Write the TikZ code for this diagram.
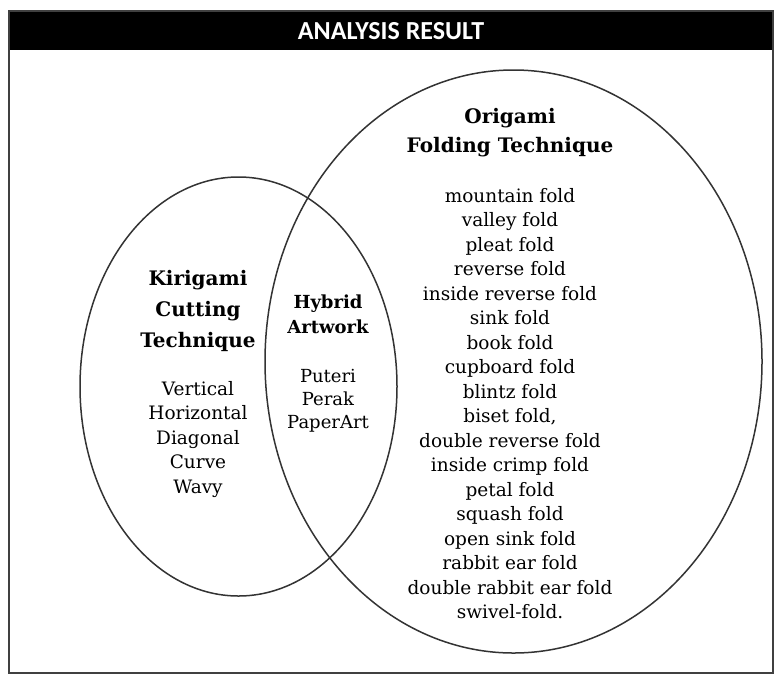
\documentclass[tikz,border=0pt]{standalone}
\usepackage{fontspec}
\setmainfont{DejaVu Serif}
\newfontfamily\headfont{Carlito}
\usetikzlibrary{shapes.geometric}
\begin{document}
\begin{tikzpicture}[x=1pt,y=-1pt,
  venn/.style={ellipse, draw=black!80, line width=1.5pt, inner sep=0pt, outer sep=0pt},
  item/.style={anchor=base, inner sep=0pt, font=\fontsize{18.5}{22}\selectfont},
  hitem/.style={anchor=base, inner sep=0pt, font=\fontsize{18}{22}\selectfont},
  ttl/.style={anchor=base, inner sep=0pt, font=\fontsize{20}{24}\selectfont\bfseries},
  httl/.style={anchor=base, inner sep=0pt, font=\fontsize{18}{22}\selectfont\bfseries},
]
\useasboundingbox (0,0) rectangle (775,675);
\fill[white] (0,0) rectangle (775,675);
% frame and header
\fill[black] (9,12) rectangle (773,50);
\draw[black!75, line width=2pt] (9,11) rectangle (773,673);
\node[font=\headfont\fontsize{26}{30}\selectfont\bfseries, text=white, inner sep=0pt] (head) at (391,31) {ANALYSIS RESULT};
% ellipses
\node[venn, minimum width=317pt, minimum height=419pt] (kiri) at (238.5,386.5) {};
\node[venn, minimum width=497pt, minimum height=583pt] (ori) at (513.5,361.5) {};
% origami
\node[ttl] (ot1) at (510,123) {Origami};
\node[ttl] (ot2) at (510,152) {Folding Technique};
\foreach \t [count=\i] in {mountain fold, valley fold, pleat fold, reverse fold, inside reverse fold, sink fold, book fold, cupboard fold, blintz fold, {biset fold,}, double reverse fold, inside crimp fold, petal fold, squash fold, open sink fold, rabbit ear fold, double rabbit ear fold, swivel-fold.}
  \node[item] (o\i) at (510,{202+24.5*(\i-1)}) {\t};
% kirigami
\node[ttl] (kt1) at (198,285) {Kirigami};
\node[ttl] (kt2) at (198,316) {Cutting};
\node[ttl] (kt3) at (198,347) {Technique};
\foreach \t [count=\i] in {Vertical, Horizontal, Diagonal, Curve, Wavy}
  \node[item] (k\i) at (198,{395+24.5*(\i-1)}) {\t};
% hybrid
\node[httl] (ht1) at (328,308) {Hybrid};
\node[httl] (ht2) at (328,333) {Artwork};
\foreach \t [count=\i] in {Puteri, Perak, PaperArt}
  \node[hitem] (h\i) at (328,{382+23*(\i-1)}) {\t};
\end{tikzpicture}
\end{document}
